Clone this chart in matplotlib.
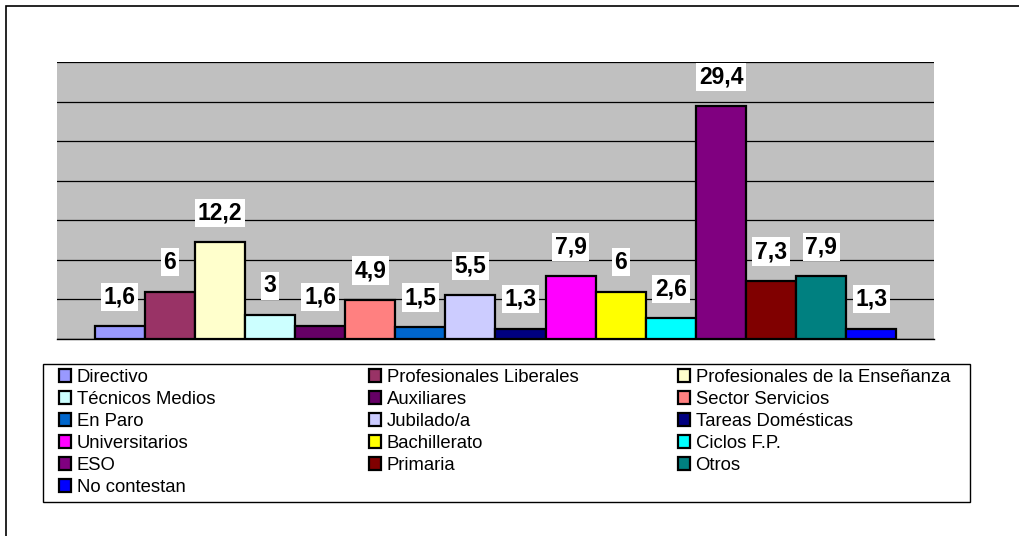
import matplotlib.pyplot as plt
from matplotlib.patches import Rectangle, Patch

plt.rcParams['font.family'] = ['Liberation Sans', 'DejaVu Sans']

categories = ['Directivo', 'Profesionales Liberales', 'Profesionales de la Enseñanza',
              'Técnicos Medios', 'Auxiliares', 'Sector Servicios', 'En Paro',
              'Jubilado/a', 'Tareas Domésticas', 'Universitarios', 'Bachillerato',
              'Ciclos F.P.', 'ESO', 'Primaria', 'Otros', 'No contestan']
values = [1.6, 6, 12.2, 3, 1.6, 4.9, 1.5, 5.5, 1.3, 7.9, 6, 2.6, 29.4, 7.3, 7.9, 1.3]
colors = ['#9999FF', '#993366', '#FFFFCC', '#CCFFFF', '#660066', '#FF8080', '#0066CC',
          '#CCCCFF', '#000080', '#FF00FF', '#FFFF00', '#00FFFF', '#800080', '#800000',
          '#008080', '#0000FF']

W, H = 1019, 536
fig = plt.figure(figsize=(W / 100, H / 100), dpi=100)

# outer frame (right/bottom edges fall outside the picture)
fig.patches.append(Rectangle((6 / W, -0.1), 1.2, (H - 6) / H + 0.1, transform=fig.transFigure,
                             fill=False, edgecolor='black', linewidth=1.2))

ax = fig.add_axes([57 / W, (H - 339) / H, (934 - 57) / W, (339 - 62) / H])
ax.set_facecolor('#C0C0C0')

xs = list(range(len(values)))
ax.bar(xs, values, width=1.0, align='edge', color=colors, edgecolor='black', linewidth=1.6, zorder=3)

for x, v in zip(xs, values):
    label = f'{v:g}'.replace('.', ',')
    ax.annotate(label, (x + 0.5, v), xytext=(0, 18), textcoords='offset pixels',
                ha='center', va='bottom', fontsize=16.5, fontweight='bold', zorder=5,
                bbox=dict(boxstyle='square,pad=0.12', facecolor='white', edgecolor='none'))

ax.set_xlim(-0.75, 16.75)
ax.set_ylim(0, 35)
ax.set_yticks(range(0, 36, 5))
ax.yaxis.grid(True, color='black', linewidth=0.9)
ax.set_axisbelow(True)
ax.tick_params(left=False, bottom=False, labelleft=False, labelbottom=False)
for side in ['left', 'right', 'top']:
    ax.spines[side].set_visible(False)
ax.spines['bottom'].set_color('black')
ax.spines['bottom'].set_linewidth(1.0)

# legend frame
fig.patches.append(Rectangle((43 / W, (H - 502) / H), (970 - 43) / W, (502 - 364) / H,
                             transform=fig.transFigure, facecolor='white',
                             edgecolor='black', linewidth=1.0))

handles = [Patch(facecolor=c, edgecolor='black', linewidth=1.6) for c in colors]
col_x = [59, 369, 678]
for j in range(3):
    idx = list(range(j, len(categories), 3))
    leg = fig.legend([handles[i] for i in idx], [categories[i] for i in idx],
                     loc='upper left', bbox_to_anchor=(col_x[j] / W, (H - 369) / H),
                     bbox_transform=fig.transFigure, frameon=False, fontsize=13.3,
                     borderpad=0, borderaxespad=0, labelspacing=0.27,
                     handlelength=0.65, handleheight=0.65, handletextpad=0.3)

fig.savefig('out.png', dpi=100)
